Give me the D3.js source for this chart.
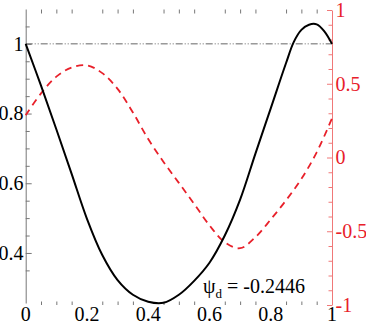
<!DOCTYPE html>
<html><head><meta charset="utf-8">
<script src="https://cdn.jsdelivr.net/npm/d3@7"></script>
<style>
html,body{margin:0;padding:0;background:#fff;}
svg{display:block;}
</style></head>
<body>
<svg id="c" width="366" height="325"></svg>
<script>
// ---- data ----
const xs = [0,0.05,0.10,0.15,0.20,0.25,0.30,0.35,0.40,0.45,0.50,0.55,0.60,0.65,0.70,0.75,0.80,0.85,0.875,0.90,0.925,0.95,0.975,1.0];
const blackVals = [1.0,0.88,0.755,0.627,0.498,0.394,0.322,0.28,0.26,0.257,0.28,0.32,0.372,0.45,0.553,0.685,0.815,0.945,1.005,1.04,1.055,1.056,1.036,1.0];
const redX = [0,0.05,0.10,0.15,0.20,0.25,0.30,0.35,0.40,0.45,0.50,0.55,0.60,0.65,0.70,0.75,0.80,0.85,0.90,0.95,1.0];
const redVals = [0.287,0.435,0.548,0.61,0.625,0.572,0.465,0.305,0.125,-0.03,-0.172,-0.315,-0.46,-0.575,-0.615,-0.54,-0.42,-0.29,-0.145,0.035,0.265];
const xTickLabels = ["0","0.2","0.4","0.6","0.8","1"];
const xTickVals = [0,0.2,0.4,0.6,0.8,1];
const leftTickVals = [0.4,0.6,0.8,1];
const leftTickLabels = ["0.4","0.6","0.8","1"];
const rightTickVals = [-1,-0.5,0,0.5,1];
const rightTickLabels = ["-1","-0.5","0","0.5","1"];
const refLevel = 1;
const annotation = {main:"ψ", sub:"d", rest:" = -0.2446"};

const FONT = "Liberation Serif";

// ---- scales ----
const svg = d3.select("#c");
const x = d3.scaleLinear().domain([0,1]).range([25.7,332]);
const yL = d3.scaleLinear().domain([0.2564,1.1]).range([303,9]);
const yR = d3.scaleLinear().domain([-1,1]).range([305,10]);

const fs = 20;

const minorX = d3.range(1,20).map(i=>i*0.05).filter(v=>Math.abs(v*5-Math.round(v*5))>1e-6);
const gTop = svg.append("g").attr("transform","translate(0,9.5)")
  .call(d3.axisBottom(x).tickValues(minorX).tickSize(4).tickFormat(""));
gTop.select(".domain").remove();
gTop.selectAll("line").attr("stroke","#777");
const gBot = svg.append("g").attr("transform","translate(0,305)")
  .call(d3.axisTop(x).tickValues(minorX).tickSize(3.5).tickFormat(""));
gBot.select(".domain").remove();
gBot.selectAll("line").attr("stroke","#777");

svg.append("g").selectAll("text").data(xTickVals).join("text")
  .attr("x",d=>x(d)).attr("y",320.5).attr("text-anchor","middle")
  .attr("font-family",FONT).attr("font-size",fs).attr("fill","#000")
  .text((d,i)=>xTickLabels[i]);

const leftMinor = d3.range(7,22).map(i=>i*0.05).filter(v=>Math.abs(v*5-Math.round(v*5))>1e-6);
const gLm = svg.append("g").attr("transform","translate(25.7,0)")
  .call(d3.axisRight(yL).tickValues(leftMinor).tickSize(4).tickFormat(""));
gLm.select(".domain").remove();
gLm.selectAll("line").attr("stroke","#777");
const gL = svg.append("g").attr("transform","translate(25.7,0)")
  .call(d3.axisRight(yL).tickValues(leftTickVals).tickSize(6).tickFormat("").tickSizeOuter(0));
gL.select(".domain").attr("stroke","#777");
gL.selectAll("line").attr("stroke","#777");
svg.append("g").selectAll("text").data(leftTickVals).join("text")
  .attr("x",23.5).attr("y",d=>yL(d)).attr("dy","0.34em").attr("text-anchor","end")
  .attr("font-family",FONT).attr("font-size",fs).attr("fill","#000")
  .text((d,i)=>leftTickLabels[i]);

const rightMinor = d3.range(-9,10).map(i=>i/10).filter(v=>Math.abs(v*2-Math.round(v*2))>1e-6);
const gRm = svg.append("g").attr("transform","translate(332,0)")
  .call(d3.axisLeft(yR).tickValues(rightMinor).tickSize(3.5).tickFormat(""));
gRm.select(".domain").remove();
gRm.selectAll("line").attr("stroke","#f07878");
const gR = svg.append("g").attr("transform","translate(332,0)")
  .call(d3.axisLeft(yR).tickValues(rightTickVals).tickSize(5).tickFormat("").tickSizeOuter(0));
gR.select(".domain").attr("stroke","#f07878");
gR.selectAll("line").attr("stroke","#f07878");
svg.append("g").selectAll("text").data(rightTickVals).join("text")
  .attr("x",335.5).attr("y",d=>yR(d)).attr("dy","0.34em").attr("text-anchor","start")
  .attr("font-family",FONT).attr("font-size",fs).attr("fill","#e8202a")
  .text((d,i)=>rightTickLabels[i]);

svg.append("line").attr("x1",x(0)).attr("x2",x(1)).attr("y1",yL(refLevel)).attr("y2",yL(refLevel))
  .attr("stroke","#666").attr("stroke-width",1).attr("stroke-dasharray","7,2,1,2,1,2");

const redLine = d3.line().x((d,i)=>x(redX[i])).y(d=>yR(d)).curve(d3.curveCatmullRom);
svg.append("path").datum(redVals).attr("d",redLine).attr("fill","none")
  .attr("stroke","#e8202a").attr("stroke-width",1.8).attr("stroke-dasharray","7,5");

const blackLine = d3.line().x((d,i)=>x(xs[i])).y(d=>yL(d)).curve(d3.curveCatmullRom);
svg.append("path").datum(blackVals).attr("d",blackLine).attr("fill","none")
  .attr("stroke","#000").attr("stroke-width",2);

const t = svg.append("text").attr("x",203).attr("y",292.5)
  .attr("font-family",FONT).attr("font-size",fs).attr("fill","#000");
t.append("tspan").text(annotation.main);
t.append("tspan").attr("font-size",13).attr("dy",5).text(annotation.sub);
t.append("tspan").attr("dy",-5).text(annotation.rest);
</script>
</body></html>
